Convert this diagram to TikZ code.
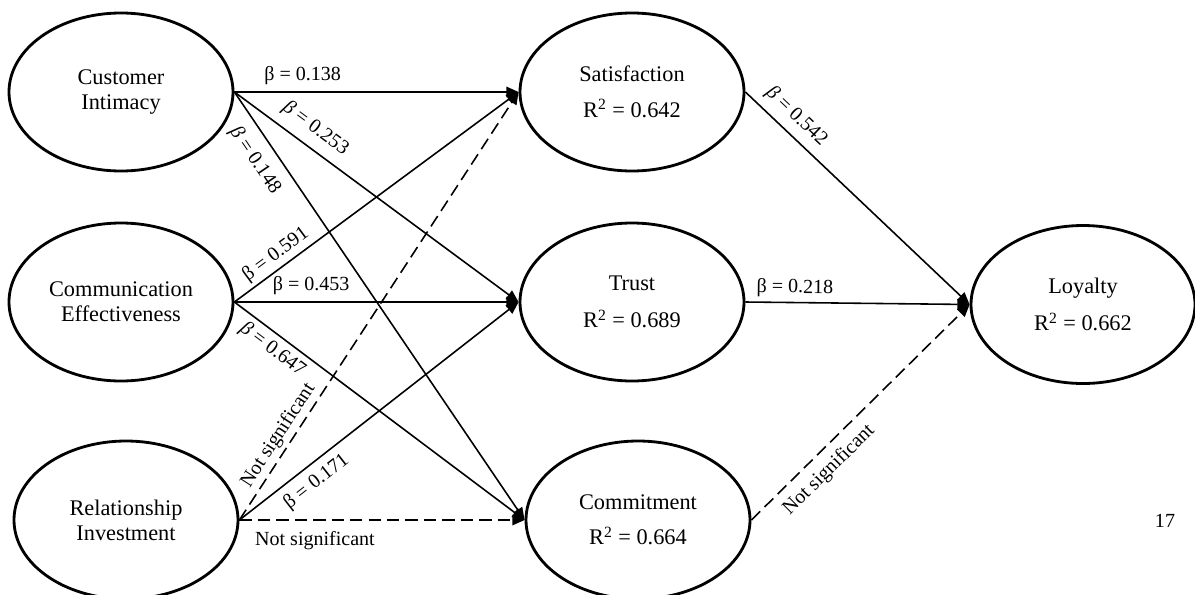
\documentclass[tikz,border=0pt]{standalone}
\usepackage{fontspec}
\setmainfont{Liberation Serif}
\usetikzlibrary{shapes.geometric,arrows.meta}

\tikzset{
  construct/.style={draw, ellipse, line width=1.6pt, minimum width=4.48cm, minimum height=3.16cm,
    align=center, font=\fontsize{12.7}{14.2}\selectfont},
  rsqconstruct/.style={construct, execute at begin node={\rule{0pt}{15pt}}},
  effect/.style={-{Triangle[length=7pt,width=6pt]}, line width=0.9pt},
  nsig/.style={effect, dash pattern=on 7pt off 3.5pt},
  coef/.style={font=\fontsize{11.4}{13}\selectfont, sloped, inner sep=2pt},
}

\begin{document}
\begin{tikzpicture}

\useasboundingbox (0,0) rectangle (23.9,11.88);

% Relationship marketing antecedents
\node[construct] (ci) at (2.42, 10.04) {Customer\\Intimacy};
\node[construct] (ce) at (2.42, 5.84) {Communication\\Effectiveness};
\node[construct] (ri) at (2.52, 1.48) {Relationship\\Investment};

% Relationship quality
\node[rsqconstruct] (sat) at (12.64, 10.04) {Satisfaction\\[6pt]R\textsuperscript{2} = 0.642};
\node[rsqconstruct] (trust) at (12.64, 5.84) {Trust\\[7pt]R\textsuperscript{2} = 0.689};
\node[rsqconstruct] (commit) at (12.76, 1.48) {Commitment\\[6pt]R\textsuperscript{2} = 0.664};

% Outcome
\node[rsqconstruct] (loyalty) at (21.66, 5.79) {Loyalty\\[7pt]R\textsuperscript{2} = 0.662};

% Paths from customer intimacy
\draw[effect] (ci.east) -- node[coef, pos=0.24, above=1.8pt] {β = 0.138} (sat.west);
\draw[effect] (ci.east) -- node[coef, pos=0.246, above=3.1pt] {\textit{β} = 0.253} (trust.west);
\draw[effect] (ci.east) -- node[coef, pos=0.132, below=4.5pt] {\textit{β} = 0.148} (commit.west);

% Paths from communication effectiveness
\draw[effect] (ce.east) -- node[coef, pos=0.174, above=0pt] {β = 0.591} (sat.west);
\draw[effect] (ce.east) -- node[coef, pos=0.27, above=1.8pt] {β = 0.453} (trust.west);
\draw[effect] (ce.east) -- node[coef, pos=0.163, below=1pt] {\textit{β} = 0.647} (commit.west);

% Paths from relationship investment
\draw[nsig] (ri.east) -- node[coef, pos=0.18, above=0pt] {Not significant} (sat.west);
\draw[effect] (ri.east) -- node[coef, pos=0.238, below=2.3pt] {β = 0.171} (trust.west);
\draw[nsig] (ri.east) -- node[coef, pos=0.265, below=4pt] {Not significant} (commit.west);

% Paths to loyalty
\draw[effect] (sat.east) -- node[coef, pos=0.175, above=2.2pt] {\textit{β} = 0.542} (loyalty.west);
\draw[effect] (trust.east) -- node[coef, pos=0.22, above=0.6pt] {β = 0.218} (loyalty.west);
\draw[nsig] (commit.east) -- node[coef, pos=0.294, below=3.2pt] {Not significant} (loyalty.west);

% Page number
\node[font=\fontsize{11.4}{13}\selectfont] (pagenum) at (23.3, 1.46) {17};

\end{tikzpicture}
\end{document}
